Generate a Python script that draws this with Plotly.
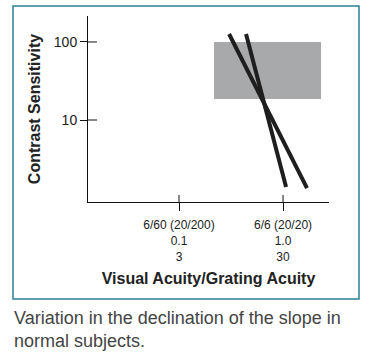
import plotly.graph_objects as go

# Data (log axes): decimal visual acuity vs contrast sensitivity
x_tick_vals = [0.1, 1.0]
x_tick_snellen = ["6/60 (20/200)", "6/6 (20/20)"]
x_tick_grating = ["3", "30"]
y_tick_vals = [10, 100]
y_tick_text = ["10", "100"]

# Normal-range box
box_x = [0.217, 2.32]
box_y = [18.6, 100]

# Two slope lines
line1_x = [0.303, 1.70]
line1_y = [126.6, 1.34]
line2_x = [0.441, 1.07]
line2_y = [126.6, 1.38]

W, H = 372, 364
L, R, T, B = 88, 43, 16, 162
pw, ph = W - L - R, H - T - B

def px(xp):
    return (xp - L) / pw

def py(yp):
    return (H - B - yp) / ph

FONT = "Liberation Sans, Arial, sans-serif"

fig = go.Figure()
fig.add_trace(go.Scatter(x=line1_x, y=line1_y, mode="lines",
                         line=dict(color="#1e1e1e", width=4), showlegend=False,
                         hoverinfo="skip"))
fig.add_trace(go.Scatter(x=line2_x, y=line2_y, mode="lines",
                         line=dict(color="#1e1e1e", width=4), showlegend=False,
                         hoverinfo="skip"))

shapes = []
shapes.append(dict(type="rect", xref="x", yref="y", x0=box_x[0], x1=box_x[1],
                   y0=box_y[0], y1=box_y[1], fillcolor="#a8a9ab",
                   line=dict(width=0), layer="below"))
# inside parts of tick marks
for v in x_tick_vals:
    shapes.append(dict(type="line", xref="x", yref="paper", x0=v, x1=v,
                       y0=0, y1=py(195), line=dict(color="#111", width=1)))
for v in y_tick_vals:
    shapes.append(dict(type="line", xref="paper", yref="y", x0=0, x1=px(97),
                       y0=v, y1=v, line=dict(color="#111", width=1)))
# frame
shapes.append(dict(type="rect", xref="paper", yref="paper",
                   x0=px(13), x1=px(359), y0=py(299), y1=py(6),
                   line=dict(color="#2d8094", width=1.5)))

ticktext = [f"{a}<br>{b:.1f}<br>{c}" for a, b, c in zip(x_tick_snellen, x_tick_vals, x_tick_grating)]

fig.update_layout(
    width=W, height=H,
    margin=dict(l=L, r=R, t=T, b=B),
    paper_bgcolor="white", plot_bgcolor="white",
    font=dict(family=FONT, color="#222", size=12),
    shapes=shapes,
    xaxis=dict(type="log", range=[-1.875, 0.442], showgrid=False, zeroline=False,
               showline=True, linecolor="#111", linewidth=1,
               ticks="outside", ticklen=8, tickcolor="#111",
               tickvals=x_tick_vals, ticktext=ticktext, ticklabelstandoff=4,
               tickfont=dict(size=12, family=FONT, color="#222"),
               title=dict(text="<b>Visual Acuity/Grating Acuity</b>",
                          font=dict(size=16, family=FONT, color="#222"), standoff=10)),
    yaxis=dict(type="log", range=[-0.051, 2.333], showgrid=False, zeroline=False,
               showline=True, linecolor="#111", linewidth=1,
               ticks="outside", ticklen=7, tickcolor="#111",
               tickvals=y_tick_vals, ticktext=y_tick_text,
               tickfont=dict(size=14, family=FONT, color="#222"),
               title=dict(text="<b>Contrast Sensitivity</b>",
                          font=dict(size=16, family=FONT, color="#222"), standoff=9)),
    annotations=[
        dict(text="Variation in the declination of the slope in<br>normal subjects.",
             xref="paper", yref="paper", x=px(12), y=py(306), xanchor="left", yanchor="top",
             align="left", showarrow=False,
             font=dict(size=18, family=FONT, color="#444")),
    ],
)

fig.write_html("out.html", config={"displayModeBar": False, "staticPlot": True},
               post_script="document.body.style.margin='0';document.body.style.overflow='hidden';")
